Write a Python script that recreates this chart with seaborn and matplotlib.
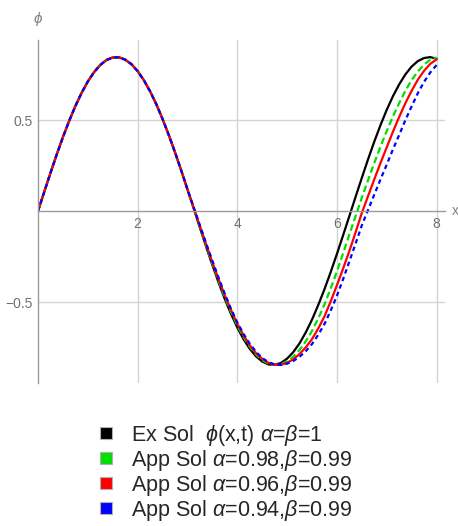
import matplotlib
matplotlib.use("Agg")
import matplotlib.pyplot as plt
from matplotlib.lines import Line2D
from matplotlib.ticker import MultipleLocator
import seaborn as sns
import pandas as pd

# ---- data ----
x_vals = [0.0, 0.125, 0.25, 0.375, 0.5, 0.625, 0.75, 0.875, 1.0, 1.125, 1.25, 1.375,
          1.5, 1.625, 1.75, 1.875, 2.0, 2.125, 2.25, 2.375, 2.5, 2.625, 2.75, 2.875,
          3.0, 3.125, 3.25, 3.375, 3.5, 3.625, 3.75, 3.875, 4.0, 4.125, 4.25, 4.375,
          4.5, 4.625, 4.75, 4.875, 5.0, 5.125, 5.25, 5.375, 5.5, 5.625, 5.75, 5.875,
          6.0, 6.125, 6.25, 6.375, 6.5, 6.625, 6.75, 6.875, 7.0, 7.125, 7.25, 7.375,
          7.5, 7.625, 7.75, 7.875, 8.0]

# x = 0 ... 3.0: all four curves coincide
shared_head = [0.000, 0.105, 0.209, 0.310, 0.406, 0.495, 0.577, 0.649, 0.712, 0.763, 0.803, 0.830,
               0.844, 0.845, 0.832, 0.807, 0.769, 0.719, 0.658, 0.587, 0.506, 0.418, 0.323, 0.223,
               0.119]

# x = 3.125 ... 8.0
ex_sol_tail = [0.014, -0.092, -0.196, -0.297, -0.393, -0.484, -0.566, -0.640, -0.704, -0.757,
               -0.798, -0.827, -0.843, -0.845, -0.835, -0.811, -0.775, -0.727, -0.667, -0.597,
               -0.517, -0.430, -0.336, -0.236, -0.133, -0.028, 0.078, 0.182, 0.284, 0.381,
               0.472, 0.556, 0.631, 0.696, 0.751, 0.794, 0.824, 0.841, 0.846, 0.837]

app_098_tail = [0.017, -0.087, -0.189, -0.289, -0.383, -0.473, -0.555, -0.629, -0.692, -0.745,
                -0.788, -0.819, -0.839, -0.846, -0.842, -0.826, -0.800, -0.763, -0.716, -0.659,
                -0.591, -0.514, -0.426, -0.332, -0.232, -0.129, -0.028, 0.073, 0.170, 0.264,
                0.354, 0.440, 0.520, 0.593, 0.661, 0.720, 0.767, 0.805, 0.831, 0.844]

app_096_tail = [0.018, -0.083, -0.183, -0.281, -0.374, -0.463, -0.544, -0.618, -0.682, -0.737,
                -0.780, -0.812, -0.834, -0.845, -0.845, -0.834, -0.815, -0.786, -0.749, -0.704,
                -0.646, -0.579, -0.497, -0.408, -0.316, -0.220, -0.117, -0.011, 0.082, 0.174,
                0.264, 0.350, 0.436, 0.517, 0.593, 0.661, 0.722, 0.771, 0.809, 0.833]

app_094_tail = [0.021, -0.079, -0.177, -0.273, -0.367, -0.455, -0.538, -0.612, -0.675, -0.729,
                -0.773, -0.808, -0.830, -0.843, -0.846, -0.839, -0.824, -0.801, -0.770, -0.731,
                -0.680, -0.621, -0.547, -0.466, -0.374, -0.277, -0.179, -0.079, 0.006, 0.090,
                0.174, 0.255, 0.339, 0.418, 0.500, 0.575, 0.648, 0.710, 0.762, 0.802]

ex_sol = shared_head + ex_sol_tail
app_098 = shared_head + app_098_tail
app_096 = shared_head + app_096_tail
app_094 = shared_head + app_094_tail

series_labels = [r"Ex Sol  $\phi$(x,t) $\alpha$=$\beta$=1",
                 r"App Sol $\alpha$=0.98,$\beta$=0.99",
                 r"App Sol $\alpha$=0.96,$\beta$=0.99",
                 r"App Sol $\alpha$=0.94,$\beta$=0.99"]
x_ticks = [2, 4, 6, 8]
x_tick_labels = ["2", "4", "6", "8"]
y_ticks = [-0.5, 0.5]
y_tick_labels = ["\u22120.5", "0.5"]

# ---- style ----
sns.set_style("white")
plt.rcParams["font.family"] = ["Liberation Sans", "DejaVu Sans"]
plt.rcParams["mathtext.fontset"] = "custom"
plt.rcParams["mathtext.rm"] = "Liberation Sans"
plt.rcParams["mathtext.it"] = "Liberation Sans:italic"

colors = ["#000000", "#00e000", "#ff0000", "#0000ff"]
styles = ["-", (0, (3, 1.6)), "-", (0, (2, 1.6))]
series = [ex_sol, app_098, app_096, app_094]

fig = plt.figure(figsize=(4.58, 5.26), dpi=100)
ax = fig.add_axes([38 / 458, 143 / 526, 407 / 458, 343 / 526])

for vals, c, ls in zip(series, colors, styles):
    df = pd.DataFrame({"x": x_vals, "y": vals})
    sns.lineplot(data=df, x="x", y="y", ax=ax, color=c, linewidth=1.6,
                 linestyle=ls, sort=False)

ax.set_xlim(0, 8.17)
ax.set_ylim(-0.945, 0.94)
ax.set_xlabel("")
ax.set_ylabel("")

axis_gray = "#9a9a9a"
for side in ["top", "right"]:
    ax.spines[side].set_visible(False)
ax.spines["left"].set_position(("data", 0))
ax.spines["bottom"].set_position(("data", 0))
for side in ["left", "bottom"]:
    ax.spines[side].set_color(axis_gray)
    ax.spines[side].set_linewidth(1.0)

ax.set_xticks(x_ticks)
ax.set_xticklabels(x_tick_labels)
ax.set_yticks(y_ticks)
ax.set_yticklabels(y_tick_labels)
ax.xaxis.set_minor_locator(MultipleLocator(0.5))
ax.yaxis.set_minor_locator(MultipleLocator(0.1))
ax.tick_params(which="major", direction="in", length=4, color=axis_gray,
               labelcolor="#707070", labelsize=10, pad=4)
ax.tick_params(which="minor", direction="in", length=2.5, color=axis_gray)
ax.grid(True, which="major", color="#d4d4d4", linewidth=1.0)
ax.set_axisbelow(True)

ax.annotate(r"$\phi$", xy=(0.0, 1.0), xycoords="axes fraction",
            xytext=(0, 9), textcoords="offset points", ha="center", va="bottom",
            color="#808080", fontsize=11, annotation_clip=False)
ax.annotate("x", xy=(1.0, 0), xycoords=("axes fraction", "data"),
            xytext=(5, 0), textcoords="offset points", ha="left", va="center",
            color="#808080", fontsize=10, annotation_clip=False)

handles = [Line2D([], [], marker="s", linestyle="None", markersize=9,
                  markerfacecolor=c, markeredgecolor="#b0b0b0", markeredgewidth=0.8)
           for c in colors]
fig.legend(handles, series_labels, loc="upper left",
           bbox_to_anchor=(100 / 458, (526 - 423) / 526), frameon=False,
           fontsize=15.5, handlelength=0.6, handletextpad=0.85, labelspacing=0.0,
           borderpad=0, borderaxespad=0)

fig.savefig("out.png", dpi=100)
